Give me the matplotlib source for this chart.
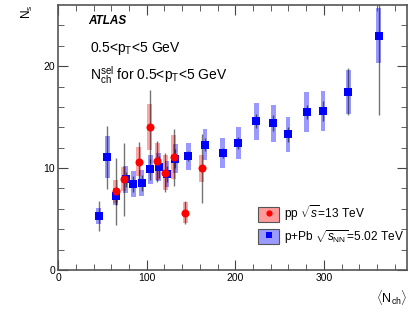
import numpy as np
import matplotlib
matplotlib.use('Agg')
import matplotlib.pyplot as plt
from matplotlib.patches import Patch
from matplotlib.lines import Line2D

plt.rcParams['font.family'] = ['Liberation Sans', 'DejaVu Sans']
plt.rcParams['mathtext.fontset'] = 'custom'
plt.rcParams['mathtext.rm'] = 'Liberation Sans'
plt.rcParams['mathtext.it'] = 'Liberation Sans:italic'
plt.rcParams['mathtext.bf'] = 'Liberation Sans:bold'

# pp 13 TeV
pp_x = [64.8, 73.9, 90.8, 103.2, 112.2, 121.2, 130.3, 143.4, 161.9]
pp_y = [7.7, 8.9, 10.62, 14.05, 10.66, 9.54, 11.06, 5.63, 9.97]
pp_stat = [3.3, 3.6, 1.9, 3.6, 2.0, 1.9, 2.8, 1.1, 3.4]
pp_sys = [1.15, 1.2, 1.45, 2.25, 1.8, 1.7, 2.15, 1.0, 1.3]

# p+Pb 5.02 TeV
ppb_x = [46, 55.4, 65.2, 76.1, 84.7, 94.2, 103.9, 113.4, 123, 132.5, 146.8,
         165.9, 185.9, 203.6, 223.9, 243.1, 259.6, 280.7, 299, 327.7, 361.9]
ppb_y = [5.3, 11.06, 7.24, 8.88, 8.42, 8.55, 9.87, 10.1, 9.4, 10.92, 11.15,
         12.3, 11.45, 12.44, 14.6, 14.4, 13.3, 15.5, 15.6, 17.47, 23.0]
ppb_stat = [1.5, 3.1, 0.9, 0.7, 0.75, 0.8, 1.0, 1.1, 0.8, 0.9, 0.5,
            0.6, 0.5, 0.6, 0.7, 0.8, 0.7, 0.7, 0.95, 2.3, 7.8]
ppb_sys = [0.8, 2.05, 0.85, 1.3, 1.3, 1.3, 1.45, 1.4, 1.25, 1.4, 1.35,
           1.5, 1.45, 1.55, 1.8, 1.8, 1.7, 1.95, 1.95, 2.15, 2.7]

fig = plt.figure(figsize=(4.15, 3.11), dpi=100)
ax = fig.add_axes([0.14, 0.132, 0.841, 0.852])

# systematic boxes
ax.bar(ppb_x, 2 * np.array(ppb_sys), bottom=np.array(ppb_y) - np.array(ppb_sys),
       width=5.5, color='#0000ff', alpha=0.4, linewidth=0, zorder=1)
ax.bar(pp_x, 2 * np.array(pp_sys), bottom=np.array(pp_y) - np.array(pp_sys),
       width=5.5, color='#ff0000', alpha=0.35, linewidth=0, zorder=1)

# statistical bars and points
ax.errorbar(ppb_x, ppb_y, yerr=ppb_stat, fmt='none', ecolor='k', alpha=0.55,
            elinewidth=1.0, zorder=2)
ax.errorbar(pp_x, pp_y, yerr=pp_stat, fmt='none', ecolor='k', alpha=0.55,
            elinewidth=1.0, zorder=2)
ax.plot(ppb_x, ppb_y, 's', color='#0000ff', ms=5.2, mew=0, zorder=3)
ax.plot(pp_x, pp_y, 'o', color='#ff0000', ms=5.8, mew=0, zorder=4)

ax.set_xlim(0, 394)
ax.set_ylim(0, 26)
ax.set_xticks([0, 100, 200, 300])
ax.set_yticks([0, 10, 20])
ax.set_xticks(np.arange(0, 394, 20), minor=True)
ax.set_yticks(np.arange(0, 26, 2), minor=True)
ax.tick_params(which='both', direction='in', top=True, right=True,
               color='#444444', labelsize=7.5, pad=2)
ax.tick_params(which='major', length=7)
ax.tick_params(which='minor', length=4)
for s in ax.spines.values():
    s.set_color('#555555')
    s.set_linewidth(1.2)

ax.set_ylabel(r'N$_{\rm s}$', loc='top', fontsize=8.5, labelpad=6)
ax.set_xlabel(r'$\langle$N$_{\rm ch}\rangle$', loc='right', fontsize=9, labelpad=4)

ax.text(0.085, 0.94, 'ATLAS', transform=ax.transAxes, fontsize=8.5,
        fontweight='bold', fontstyle='italic', va='center')
ax.text(0.09, 0.835, r'0.5<p$_{\rm T}$<5 GeV', transform=ax.transAxes,
        fontsize=10, va='center')
ax.text(0.09, 0.735, r'N$_{\rm ch}^{\rm sel}$ for 0.5<p$_{\rm T}$<5 GeV',
        transform=ax.transAxes, fontsize=10, va='center')

h_pp = (Patch(facecolor='#ff9a9a', edgecolor='#555555', linewidth=0.8),
        Line2D([], [], marker='o', color='#ff0000', ls='none', ms=4.5, mew=0))
h_ppb = (Patch(facecolor='#9a9aff', edgecolor='#555555', linewidth=0.8),
         Line2D([], [], marker='s', color='#0000ff', ls='none', ms=4, mew=0))
ax.legend([h_pp, h_ppb], [r'pp $\sqrt{s}$=13 TeV', r'p+Pb $\sqrt{s_{\rm NN}}$=5.02 TeV'],
          loc='lower left', bbox_to_anchor=(0.55, 0.06), frameon=False,
          fontsize=8.6, handlelength=1.75, handleheight=1.5, handletextpad=0.4,
          labelspacing=0.4, borderpad=0.2)

fig.savefig('out.png', dpi=100)
